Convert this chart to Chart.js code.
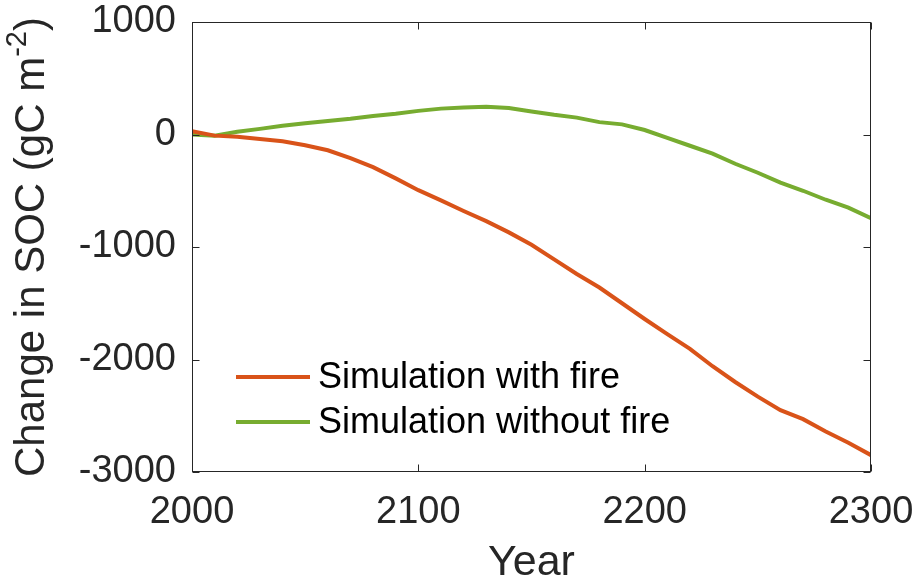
<!DOCTYPE html>
<html><head><meta charset="utf-8">
<script src="https://cdn.jsdelivr.net/npm/chart.js@4"></script>
<style>html,body{margin:0;padding:0;background:#fff}#wrap{width:920px;height:585px}</style>
</head><body><div id="wrap"><canvas id="c" width="920" height="585"></canvas></div>
<script>
const years = [2000,2010,2020,2030,2040,2050,2060,2070,2080,2090,2100,2110,2120,2130,2140,2150,2160,2170,2180,2190,2200,2210,2220,2230,2240,2250,2260,2270,2280,2290,2300];
const withFire = [30,-10,-20,-40,-60,-95,-140,-210,-290,-390,-495,-585,-680,-770,-870,-980,-1110,-1240,-1360,-1500,-1640,-1775,-1905,-2060,-2200,-2330,-2450,-2530,-2640,-2740,-2850];
const withoutFire = [0,-10,25,50,78,100,120,140,165,185,210,230,240,247,235,205,175,150,110,90,40,-30,-100,-170,-260,-340,-428,-500,-580,-650,-745];
const xTicks = [2000,2100,2200,2300];
const yTicks = [-3000,-2000,-1000,0,1000];
const seriesLabels = ['Simulation with fire','Simulation without fire'];
const seriesColors = ['#D95319','#77AC30'];
const xTitle = 'Year';
const yTitleMain = 'Change in SOC (gC m';
const yTitleSup = '-2';
const yTitleEnd = ')';

const FONT = '"Liberation Sans", Arial, Helvetica, sans-serif';
const TXT = '#262626';

const framePlugin = {
  id: 'frame',
  afterDatasetsDraw(chart) {
    const {ctx, chartArea: a, scales: {x, y}} = chart;
    ctx.save();
    ctx.strokeStyle = TXT;
    ctx.lineWidth = 1;
    const L = Math.round(a.left) + 0.5, R = Math.round(a.right) - 0.5;
    const T = Math.round(a.top) + 0.5, B = Math.round(a.bottom) - 0.5;
    ctx.strokeRect(L, T, R - L, B - T);
    const tl = 7;
    ctx.beginPath();
    xTicks.forEach(v => {
      const px = Math.round(x.getPixelForValue(v)) + 0.5;
      ctx.moveTo(px, B); ctx.lineTo(px, B - tl);
      ctx.moveTo(px, T); ctx.lineTo(px, T + tl);
    });
    yTicks.forEach(v => {
      const py = Math.round(y.getPixelForValue(v)) + 0.5;
      ctx.moveTo(L, py); ctx.lineTo(L + tl, py);
      ctx.moveTo(R, py); ctx.lineTo(R - tl, py);
    });
    ctx.stroke();
    ctx.restore();
  },
  afterDraw(chart) {
    const {ctx, chartArea: a} = chart;
    ctx.save();
    const rows = [377, 422];
    chart.data.datasets.forEach((ds, i) => {
      const yy = rows[i];
      ctx.strokeStyle = ds.borderColor;
      ctx.lineWidth = 4;
      ctx.beginPath();
      ctx.moveTo(236, yy); ctx.lineTo(310, yy);
      ctx.stroke();
      ctx.fillStyle = '#000';
      ctx.font = '36px ' + FONT;
      ctx.textBaseline = 'middle';
      ctx.textAlign = 'left';
      ctx.fillText(ds.label, 318, yy + 1);
    });
    const fs = 42;
    ctx.translate(44, (a.top + a.bottom) / 2);
    ctx.rotate(-Math.PI / 2);
    ctx.fillStyle = TXT;
    ctx.textBaseline = 'alphabetic';
    ctx.textAlign = 'left';
    ctx.font = fs + 'px ' + FONT;
    const w1 = ctx.measureText(yTitleMain).width;
    ctx.font = Math.round(fs * 0.7) + 'px ' + FONT;
    const w2 = ctx.measureText(yTitleSup).width;
    ctx.font = fs + 'px ' + FONT;
    const w3 = ctx.measureText(yTitleEnd).width;
    const total = w1 + w2 + w3;
    let sx = -total / 2;
    ctx.fillText(yTitleMain, sx, 0);
    sx += w1;
    ctx.font = Math.round(fs * 0.7) + 'px ' + FONT;
    ctx.fillText(yTitleSup, sx, -fs * 0.42);
    sx += w2;
    ctx.font = fs + 'px ' + FONT;
    ctx.fillText(yTitleEnd, sx, 0);
    ctx.restore();
  }
};

new Chart(document.getElementById('c'), {
  type: 'line',
  data: {
    labels: years,
    datasets: [
      {label: seriesLabels[0], data: years.map((yr, i) => ({x: yr, y: withFire[i]})), borderColor: seriesColors[0], backgroundColor: seriesColors[0], borderWidth: 4, pointRadius: 0, tension: 0, fill: false},
      {label: seriesLabels[1], data: years.map((yr, i) => ({x: yr, y: withoutFire[i]})), borderColor: seriesColors[1], backgroundColor: seriesColors[1], borderWidth: 4, pointRadius: 0, tension: 0, fill: false}
    ]
  },
  options: {
    responsive: false,
    devicePixelRatio: 1,
    animation: false,
    layout: {padding: {left: 0, top: 22, right: 49, bottom: 0}},
    plugins: {legend: {display: false}, tooltip: {enabled: false}},
    scales: {
      x: {
        type: 'linear', min: 2000, max: 2300,
        afterBuildTicks: s => { s.ticks = xTicks.map(v => ({value: v})); },
        afterFit: s => { s.height = 113; s.paddingLeft = 0; s.paddingRight = 0; },
        grid: {display: false, drawTicks: false},
        border: {display: false},
        ticks: {color: TXT, font: {family: FONT, size: 38}, padding: 18, maxRotation: 0, autoSkip: false,
          callback: v => String(v)},
        title: {display: true, text: xTitle, color: TXT, font: {family: FONT, size: 43, lineHeight: 1}, padding: {top: 0, bottom: 0}}
      },
      y: {
        min: -3000, max: 1000,
        afterBuildTicks: s => { s.ticks = yTicks.map(v => ({value: v})); },
        afterFit: s => { s.width = 192; s.paddingTop = 0; s.paddingBottom = 0; },
        grid: {display: false, drawTicks: false},
        border: {display: false},
        ticks: {color: TXT, font: {family: FONT, size: 38}, padding: 16, autoSkip: false,
          callback: v => String(v)}
      }
    }
  },
  plugins: [framePlugin]
});
</script></body></html>
